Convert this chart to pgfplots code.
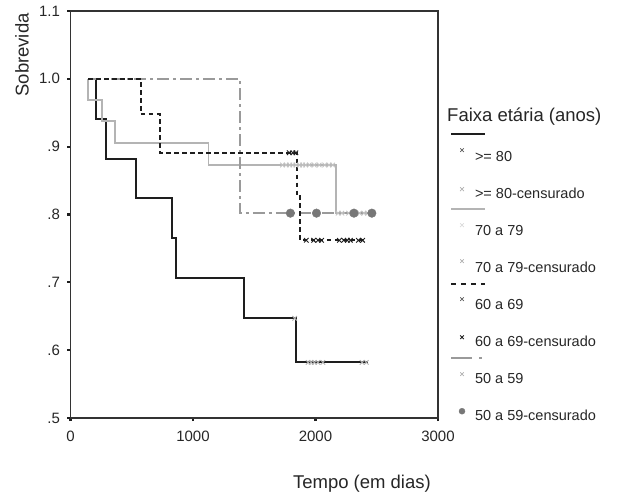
\documentclass[border=0pt]{standalone}
\usepackage{fontspec}
\setmainfont{Liberation Sans}
\usepackage{pgfplots}
\pgfplotsset{compat=1.18}
\definecolor{cblack}{HTML}{1E1E1E}
\definecolor{cgray}{HTML}{B4B4B4}
\definecolor{cdash}{HTML}{9A9A9A}
\definecolor{ccens80}{HTML}{AFAFAF}
\definecolor{ccens70}{HTML}{C2C2C2}
\definecolor{ccirc}{HTML}{777777}
\begin{document}
\begin{tikzpicture}
\begin{axis}[
  scale only axis, width=367.5pt, height=407pt,
  xmin=0, xmax=3000, ymin=0.5, ymax=1.1,
  xtick={0,1000,2000,3000},
  ytick={0.5,0.6,0.7,0.8,0.9,1.0,1.1},
  yticklabels={.5,.6,.7,.8,.9,1.0,1.1},
  /pgf/number format/assume math mode=true,
  xticklabel style={/pgf/number format/fixed, /pgf/number format/1000 sep={}, yshift=-6pt},
  yticklabel style={xshift=-4pt},
  scaled x ticks=false,
  tick label style={font=\fontsize{15}{17}\selectfont, text=black!85},
  xtick pos=left, ytick pos=left,
  tick align=outside, major tick length=3pt,
  tick style={line width=2.2pt, color=cblack},
  axis line style={line width=1.4pt, color=black!80},
  clip=false,
  xlabel={Tempo (em dias)}, ylabel={Sobrevida},
  label style={font=\fontsize{18.5}{22}\selectfont, text=black!85},
  xlabel style={at={(axis description cs:0.793,-0.162)}, anchor=center},
  ylabel style={at={(axis description cs:-0.132,0.892)}, anchor=center},
  legend cell align=left,
  legend style={draw=none, fill=none, inner sep=0pt, outer sep=0pt,
    at={(axis description cs:1.0463,0.6862)}, anchor=north west,
    row sep=0pt, column sep=0pt,
    font=\fontsize{14.5}{17}\selectfont,
    nodes={inner sep=0pt, text=black!85}},
]
% >= 80
\addplot[const plot, color=cblack, line width=1.9pt, forget plot] coordinates {
(145,1.0)(208,0.941)(287,0.882)(534,0.824)(830,0.765)(863,0.706)(1415,0.647)(1839,0.582)(2427,0.582)};
% 70 a 79
\addplot[const plot, color=cgray, line width=1.8pt, forget plot] coordinates {
(145,1.0)(145,0.969)(257,0.938)(363,0.906)(1127,0.873)(2166,0.802)(2440,0.802)};
% 50 a 59
\addplot[const plot, color=cdash, line width=1.6pt, dash pattern=on 12pt off 4pt on 3pt off 4pt, forget plot] coordinates {
(145,1.0)(1383,0.802)(2460,0.802)};
% 60 a 69
\addplot[const plot, color=cblack, line width=2pt, dash pattern=on 4.5pt off 3.5pt, forget plot] coordinates {
(145,1.0)(575,0.948)(730,0.891)(1845,0.827)(1872,0.762)(2400,0.762)};
% censored marks
\addplot[only marks, mark=x, mark size=3.2pt, color=ccens80, line width=0.9pt, forget plot] coordinates {
(1830,0.647)(1940,0.582)(1965,0.582)(1990,0.582)(2020,0.582)(2060,0.582)(2380,0.582)(2415,0.582)};
\addplot[only marks, mark=x, mark size=3.2pt, color=ccens70, line width=0.9pt, forget plot] coordinates {
(1730,0.873)(1760,0.873)(1790,0.873)(1815,0.873)(1840,0.873)(1870,0.873)(1895,0.873)(1920,0.873)(1950,0.873)(1990,0.873)(2030,0.873)(2075,0.873)(2110,0.873)(2140,0.873)
(2185,0.802)(2215,0.802)(2270,0.802)(2300,0.802)(2330,0.802)(2360,0.802)(2395,0.802)(2425,0.802)};
\addplot[only marks, mark=x, mark size=3.2pt, color=cblack, line width=0.9pt, forget plot] coordinates {
(1785,0.891)(1815,0.891)(1840,0.891)
(1925,0.762)(1985,0.762)(2020,0.762)(2050,0.762)(2195,0.762)(2230,0.762)(2260,0.762)(2285,0.762)(2350,0.762)(2385,0.762)};
\addplot[only marks, mark=*, mark size=4.3pt, color=ccirc, forget plot] coordinates {
(1795,0.802)(2008,0.802)(2314,0.802)(2460,0.802)};
% legend
\addlegendimage{legend image code/.code={
  \path[draw=none, fill=none] (0pt,-18.5pt) rectangle (20pt,18.5pt);
  \draw[overlay, cblack, line width=1.8pt] (-4pt,23pt) -- (30pt,23pt);
  \path[draw=black!65, mark=x, mark size=2.5pt, line width=0.7pt] plot coordinates {(7pt,7pt)};}}
\addlegendentry{>= 80}
\addlegendimage{legend image code/.code={
  \path[draw=none, fill=none] (0pt,-18.5pt) rectangle (20pt,18.5pt);
  \path[draw=ccens80, mark=x, mark size=2.8pt, line width=0.7pt] plot coordinates {(7pt,5pt)};}}
\addlegendentry{>= 80-censurado}
\addlegendimage{legend image code/.code={
  \path[draw=none, fill=none] (0pt,-18.5pt) rectangle (20pt,18.5pt);
  \draw[overlay, cgray, line width=1.6pt] (-4pt,22pt) -- (30pt,22pt);
  \path[draw=black!15, mark=x, mark size=2.6pt, line width=0.7pt] plot coordinates {(7pt,6pt)};}}
\addlegendentry{70 a 79}
\addlegendimage{legend image code/.code={
  \path[draw=none, fill=none] (0pt,-18.5pt) rectangle (20pt,18.5pt);
  \path[draw=ccens80, mark=x, mark size=2.5pt, line width=0.7pt] plot coordinates {(7pt,7pt)};}}
\addlegendentry{70 a 79-censurado}
\addlegendimage{legend image code/.code={
  \path[draw=none, fill=none] (0pt,-18.5pt) rectangle (20pt,18.5pt);
  \draw[overlay, cblack, line width=2pt, dash pattern=on 4.5pt off 5.5pt] (-4pt,21pt) -- (30pt,21pt);
  \path[draw=black!65, mark=x, mark size=2.5pt, line width=0.7pt] plot coordinates {(7pt,6pt)};}}
\addlegendentry{60 a 69}
\addlegendimage{legend image code/.code={
  \path[draw=none, fill=none] (0pt,-18.5pt) rectangle (20pt,18.5pt);
  \path[draw=cblack, mark=x, mark size=2.5pt, line width=0.8pt] plot coordinates {(7pt,5pt)};}}
\addlegendentry{60 a 69-censurado}
\addlegendimage{legend image code/.code={
  \path[draw=none, fill=none] (0pt,-18.5pt) rectangle (20pt,18.5pt);
  \draw[overlay, cdash, line width=1.6pt] (-4pt,21pt) -- (17pt,21pt) (24pt,21pt) -- (27pt,21pt);
  \path[draw=ccens80, mark=x, mark size=2.5pt, line width=0.7pt] plot coordinates {(7pt,5pt)};}}
\addlegendentry{50 a 59}
\addlegendimage{legend image code/.code={
  \path[draw=none, fill=none] (0pt,-18.5pt) rectangle (20pt,18.5pt);
  \path[fill=ccirc, draw=ccirc, mark=*, mark size=3pt] plot coordinates {(7pt,5pt)};}}
\addlegendentry{50 a 59-censurado}
\node[anchor=base west, font=\fontsize{18.5}{22}\selectfont, text=black!85, inner sep=0pt]
  at (axis description cs:1.0245,0.7297) {Faixa etária (anos)};
\end{axis}
\pgfresetboundingbox
\path (-70.5pt,-78pt) rectangle (546.5pt,418pt);
\end{tikzpicture}
\end{document}
